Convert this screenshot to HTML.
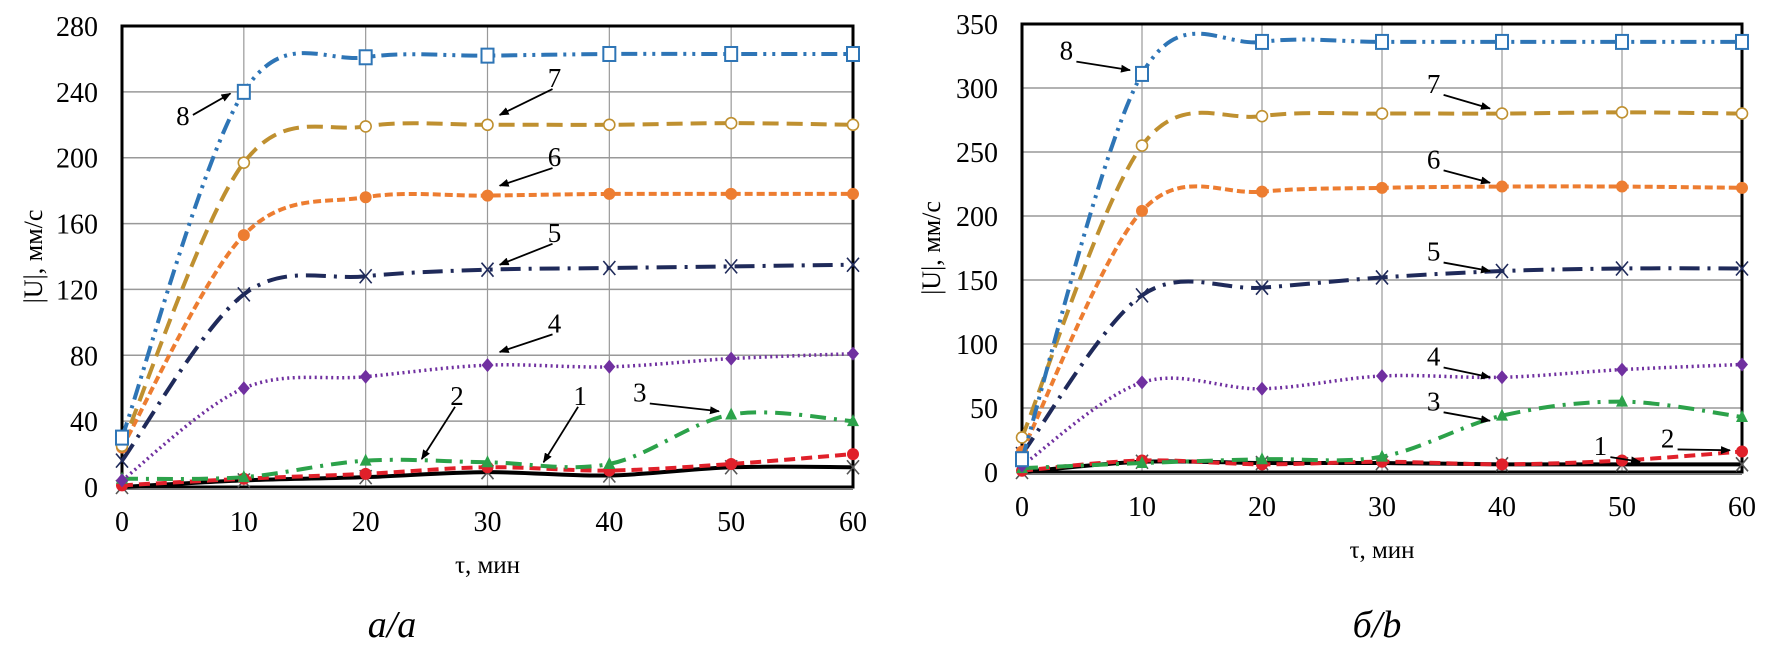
<!DOCTYPE html>
<html><head><meta charset="utf-8"><style>
html,body{margin:0;padding:0;background:#fff;}
svg{display:block;font-family:"Liberation Serif","DejaVu Serif",serif;}
</style></head><body>
<svg id="s" width="1780" height="648" viewBox="0 0 1780 648" xmlns="http://www.w3.org/2000/svg">
<defs><marker id="ah" markerWidth="10" markerHeight="8" refX="9" refY="4" orient="auto" markerUnits="userSpaceOnUse" viewBox="0 0 10 8"><path d="M0,0 L10,4 L0,8 z" fill="#000"/></marker></defs>
</svg>
<script>
const times=[0,10,20,30,40,50,60];
const leftTicks=[0,40,80,120,160,200,240,280];
const rightTicks=[0,50,100,150,200,250,300,350];
const xTicks=[0,10,20,30,40,50,60];
const leftS1=[0,4,6,9,7,12,12];
const leftS2=[1,5,8,12,10,14,20];
const leftS3=[5,6,16,15,14,44,40];
const leftS4=[4,60,67,74,73,78,81];
const leftS5=[16,117,128,132,133,134,135];
const leftS6=[24,153,176,177,178,178,178];
const leftS7=[25,197,219,220,220,221,220];
const leftS8=[30,240,261,262,263,263,263];
const rightS1=[0,8,7,7,6,6,6];
const rightS2=[1,9,6,8,6,9,16];
const rightS3=[3,7,10,12,44,55,43];
const rightS4=[5,70,65,75,74,80,84];
const rightS5=[14,138,144,152,157,159,159];
const rightS6=[16,204,219,222,223,223,222];
const rightS7=[27,255,278,280,280,281,280];
const rightS8=[10,311,336,336,336,336,336];
const styles=[
 {c:'#000',w:4,d:'',m:'x'},
 {c:'#e0202a',w:4,d:'11,6',m:'dot'},
 {c:'#2ca24a',w:4,d:'16,8,3,8',m:'tri'},
 {c:'#7030a0',w:3.5,d:'2,3.5',m:'dia'},
 {c:'#1f2a5a',w:4,d:'20,8,3,8',m:'x'},
 {c:'#ed7d31',w:4,d:'8,4',m:'dot'},
 {c:'#bf9030',w:4,d:'16,8',m:'ocirc'},
 {c:'#2e75b6',w:4,d:'16,6,3,6,3,6',m:'osq'}];
const NS='http://www.w3.org/2000/svg';
const svg=document.getElementById('s');
function mk(t,a,p){const e=document.createElementNS(NS,t);for(const k in a)e.setAttribute(k,a[k]);(p||svg).appendChild(e);return e;}
function chart(cfg){
 const g=mk('g',{});
 
 
 const X=v=>cfg.x0+(v/60)*(cfg.x1-cfg.x0);
 const Y=v=>cfg.y0-(v/cfg.ymax)*(cfg.y0-cfg.y1);
 cfg.ticks.forEach(t=>{
  const l=mk('line',{x1:cfg.x0,x2:cfg.x1,y1:Y(t),y2:Y(t),stroke:'#999','stroke-width':1.5},g);
  
  
  const tx=mk('text',{x:cfg.x0-24,y:Y(t)+10,'text-anchor':'end','font-size':28},g);
  
  
  tx.textContent=t;
 });
 xTicks.forEach(t=>{
  const l=mk('line',{x1:X(t),x2:X(t),y1:cfg.y1,y2:cfg.y0,stroke:'#999','stroke-width':1.2},g);
  
  
  const tx=mk('text',{x:X(t),y:cfg.y0+44,'text-anchor':'middle','font-size':28},g);
  
  
  tx.textContent=t;
 });
 const fr=mk('rect',{x:cfg.x0,y:cfg.y1,width:cfg.x1-cfg.x0,height:cfg.y0-cfg.y1,fill:'none',stroke:'#000','stroke-width':3},g);
 
 
 const bl=mk('line',{x1:cfg.x0,x2:cfg.x1,y1:cfg.y0+2,y2:cfg.y0+2,stroke:'#777','stroke-width':2},g);
 
 
 cfg.series.forEach((vals,i)=>{
  const st=styles[i];
  const p=times.map((t,j)=>[X(t),Y(vals[j])]);
  let d='M'+p[0][0]+','+p[0][1];
  for(let j=0;j<p.length-1;j++){
   const a=p[j-1]||p[j],b=p[j],c=p[j+1],e=p[j+2]||c;
   const c1=[b[0]+(c[0]-a[0])/6,b[1]+(c[1]-a[1])/6],c2=[c[0]-(e[0]-b[0])/6,c[1]-(e[1]-b[1])/6];
   d+=' C'+c1+' '+c2+' '+c;
  }
  const path=mk('path',{d:d,fill:'none',stroke:st.c,'stroke-width':st.w,'stroke-dasharray':st.d},g);
  
  
  p.forEach(q=>{
   let m;
   if(st.m=='x'){m=mk('path',{d:`M${q[0]-6},${q[1]-7}L${q[0]+6},${q[1]+7}M${q[0]+6},${q[1]-7}L${q[0]-6},${q[1]+7}`,stroke:i==0?'#555':st.c,'stroke-width':1.6,fill:'none'},g);}
   else if(st.m=='dot'){m=mk('circle',{cx:q[0],cy:q[1],r:6,fill:st.c},g);}
   else if(st.m=='tri'){m=mk('path',{d:`M${q[0]},${q[1]-7}L${q[0]+6},${q[1]+5}L${q[0]-6},${q[1]+5}z`,fill:st.c},g);}
   else if(st.m=='dia'){m=mk('path',{d:`M${q[0]},${q[1]-7}L${q[0]+6},${q[1]}L${q[0]},${q[1]+7}L${q[0]-6},${q[1]}z`,fill:st.c},g);}
   else if(st.m=='ocirc'){m=mk('circle',{cx:q[0],cy:q[1],r:5.5,fill:'#fff',stroke:st.c,'stroke-width':1.6},g);}
   else {m=mk('rect',{x:q[0]-6,y:q[1]-7,width:12,height:14,fill:'#fff',stroke:st.c,'stroke-width':2},g);}
   
   
  });
 });
 cfg.labels.forEach((L,i)=>{
  const t=mk('text',{x:X(L[0]),y:Y(L[1])+10,'text-anchor':'middle','font-size':27},g);
  
  
  t.textContent=L[4];
  const a=mk('line',{x1:X(L[0])+(L[2]>L[0]?10:-2),y1:Y(L[1])+(L[3]<L[1]?12:0),x2:X(L[2]),y2:Y(L[3]),stroke:'#000','stroke-width':1.8,'marker-end':'url(#ah)'},g);
  
  
 });
 const yt=mk('text',{transform:`translate(${cfg.ytx},${(cfg.y0+cfg.y1)/2}) rotate(-90)`,'text-anchor':'middle','font-size':26},g);
 
 
 yt.textContent='|U|, мм/с';
 const xt=mk('text',{x:(cfg.x0+cfg.x1)/2,y:cfg.y0+86,'text-anchor':'middle','font-size':25},g);
 
 
 xt.textContent='τ, мин';
 const cp=mk('text',{x:cfg.capx,y:637,'text-anchor':'middle','font-size':38,'font-style':'italic'},g);
 
 
 cp.textContent=cfg.cap;
}
chart({name:'chart-a',x0:122,x1:853,y0:487,y1:26,ymax:280,ticks:leftTicks,ytx:42,cap:'а/а',capx:392,
 series:[leftS1,leftS2,leftS3,leftS4,leftS5,leftS6,leftS7,leftS8],
 labels:[[5,226,8.9,239,'8'],[35.5,249,31,226,'7'],[35.5,201,31,183,'6'],[35.5,155,31,135,'5'],[35.5,100,31,82,'4'],[27.5,56,24.6,17,'2'],[37.6,56,34.6,15,'1'],[42.5,58,49,46,'3']]});
chart({name:'chart-b',x0:1022,x1:1742,y0:472,y1:24,ymax:350,ticks:rightTicks,ytx:940,cap:'б/b',capx:1377,
 series:[rightS1,rightS2,rightS3,rightS4,rightS5,rightS6,rightS7,rightS8],
 labels:[[3.7,330,9,314,'8'],[34.3,304,39,284,'7'],[34.3,245,39,226,'6'],[34.3,173,39,157,'5'],[34.3,91,39,74,'4'],[34.3,56,39,40,'3'],[48.2,21,51.5,8,'1'],[53.8,27,59,17,'2']]});
</script>
</body></html>
